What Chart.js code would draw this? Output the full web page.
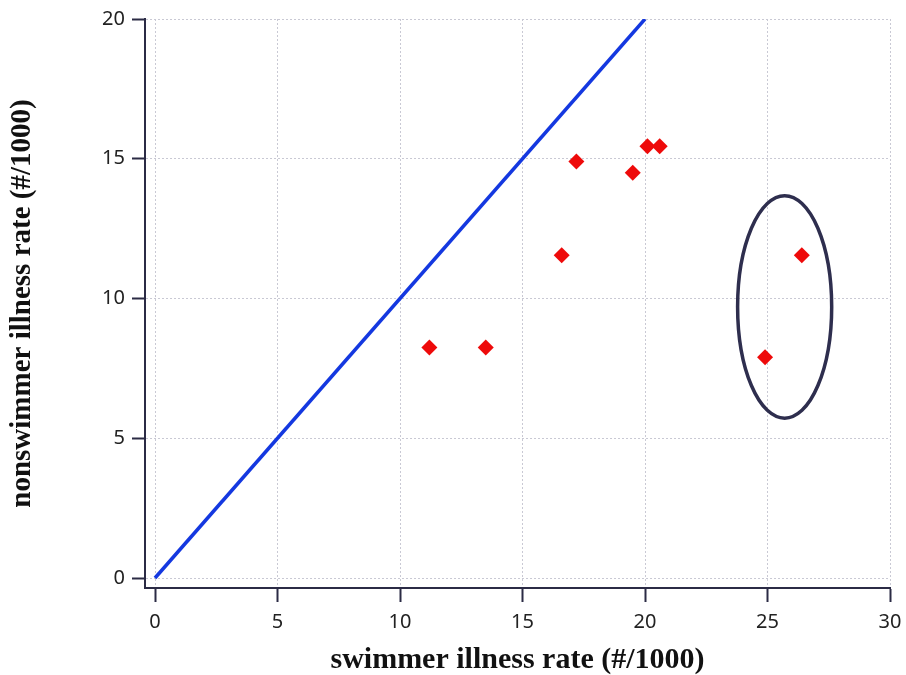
<!DOCTYPE html>
<html>
<head>
<meta charset="utf-8">
<script src="https://cdn.jsdelivr.net/npm/chart.js@4/dist/chart.umd.min.js"></script>
<style>
  html, body { margin: 0; padding: 0; background: #fff; }
  #wrap { width: 906px; height: 675px; }
</style>
</head>
<body>
<div id="wrap"><canvas id="illnessChart" width="906" height="675"></canvas></div>
<script>
// swimmer vs nonswimmer illness rates (#/1000)
const swimmerRates = [11.2, 13.5, 16.6, 17.2, 19.5, 20.1, 20.6, 24.9, 26.4];
const nonswimmerRates = [8.25, 8.25, 11.55, 14.9, 14.5, 15.45, 15.45, 7.9, 11.55];

// 1:1 reference line
const refLineX = [0, 20];
const refLineY = [0, 20];

const xTicks = [0, 5, 10, 15, 20, 25, 30];
const yTicks = [0, 5, 10, 15, 20];

// outlier ellipse: centre and radii in data units
const ellipseCenter = [25.7, 9.7];
const ellipseRadius = [1.92, 3.98];

const axisColor = "#2b2b45";
const gridColor = "#c9c9d4";

const ellipsePlugin = {
  id: "ellipse",
  afterDatasetsDraw(chart) {
    const x = chart.scales.x;
    const y = chart.scales.y;
    const cx = x.getPixelForValue(ellipseCenter[0]);
    const cy = y.getPixelForValue(ellipseCenter[1]);
    const rx = Math.abs(x.getPixelForValue(ellipseCenter[0] + ellipseRadius[0]) - cx);
    const ry = Math.abs(y.getPixelForValue(ellipseCenter[1] + ellipseRadius[1]) - cy);
    const ctx = chart.ctx;
    ctx.save();
    ctx.beginPath();
    ctx.ellipse(cx, cy, rx, ry, 0, 0, Math.PI * 2);
    ctx.lineWidth = 3.5;
    ctx.strokeStyle = "#2e2e4e";
    ctx.stroke();
    ctx.restore();
  }
};

const tickFont = { family: "'Noto Sans', sans-serif", size: 20 };
const xTitleFont = { family: "'Liberation Serif', 'Times New Roman', serif", size: 30, weight: "bold", lineHeight: 1.0 };
const yTitleFont = { family: "'Liberation Serif', 'Times New Roman', serif", size: 29, weight: "bold", lineHeight: 1.0 };

const ctx = document.getElementById("illnessChart").getContext("2d");
new Chart(ctx, {
  data: {
    datasets: [{
      type: "line",
      data: refLineX.map((v, i) => ({ x: v, y: refLineY[i] })),
      borderColor: "#1438e0",
      borderWidth: 3.5,
      pointRadius: 0,
      fill: false
    }, {
      type: "scatter",
      data: swimmerRates.map((v, i) => ({ x: v, y: nonswimmerRates[i] })),
      pointStyle: "rectRot",
      pointRadius: 8,
      backgroundColor: "#ee0a0a",
      borderColor: "#ee0a0a",
      borderWidth: 0
    }]
  },
  options: {
    responsive: false,
    animation: false,
    layout: { padding: { top: 12, right: 16, left: 0, bottom: 0 } },
    plugins: {
      legend: { display: false },
      tooltip: { enabled: false }
    },
    scales: {
      x: {
        type: "linear",
        min: -10 / 24.5,
        max: 30,
        afterBuildTicks: scale => { scale.ticks = xTicks.map(v => ({ value: v })); },
        afterFit: scale => { scale.height = 87; scale.paddingRight = 0; },
        ticks: {
          font: tickFont,
          color: "#222",
          padding: 8,
          maxRotation: 0,
          callback: v => String(v)
        },
        grid: {
          color: gridColor,
          lineWidth: 1,
          tickLength: 14,
          tickColor: axisColor,
          tickWidth: 2
        },
        border: { color: axisColor, width: 2, dash: [2, 2] },
        title: {
          display: true,
          text: "swimmer illness rate (#/1000)",
          font: xTitleFont,
          color: "#111",
          padding: { top: 6, bottom: 0 }
        }
      },
      y: {
        type: "linear",
        min: -10 / 28,
        max: 20,
        afterBuildTicks: scale => { scale.ticks = yTicks.map(v => ({ value: v })); },
        afterFit: scale => { scale.width = 145; },
        ticks: {
          font: tickFont,
          color: "#222",
          padding: 7,
          callback: v => String(v)
        },
        grid: {
          color: gridColor,
          lineWidth: 1,
          tickLength: 13,
          tickColor: axisColor,
          tickWidth: 2
        },
        border: { color: axisColor, width: 2, dash: [2, 2] },
        title: {
          display: true,
          text: "nonswimmer illness rate (#/1000)",
          font: yTitleFont,
          color: "#111",
          padding: { top: 8, bottom: 0 }
        }
      }
    }
  },
  plugins: [ellipsePlugin]
});
</script>
</body>
</html>
